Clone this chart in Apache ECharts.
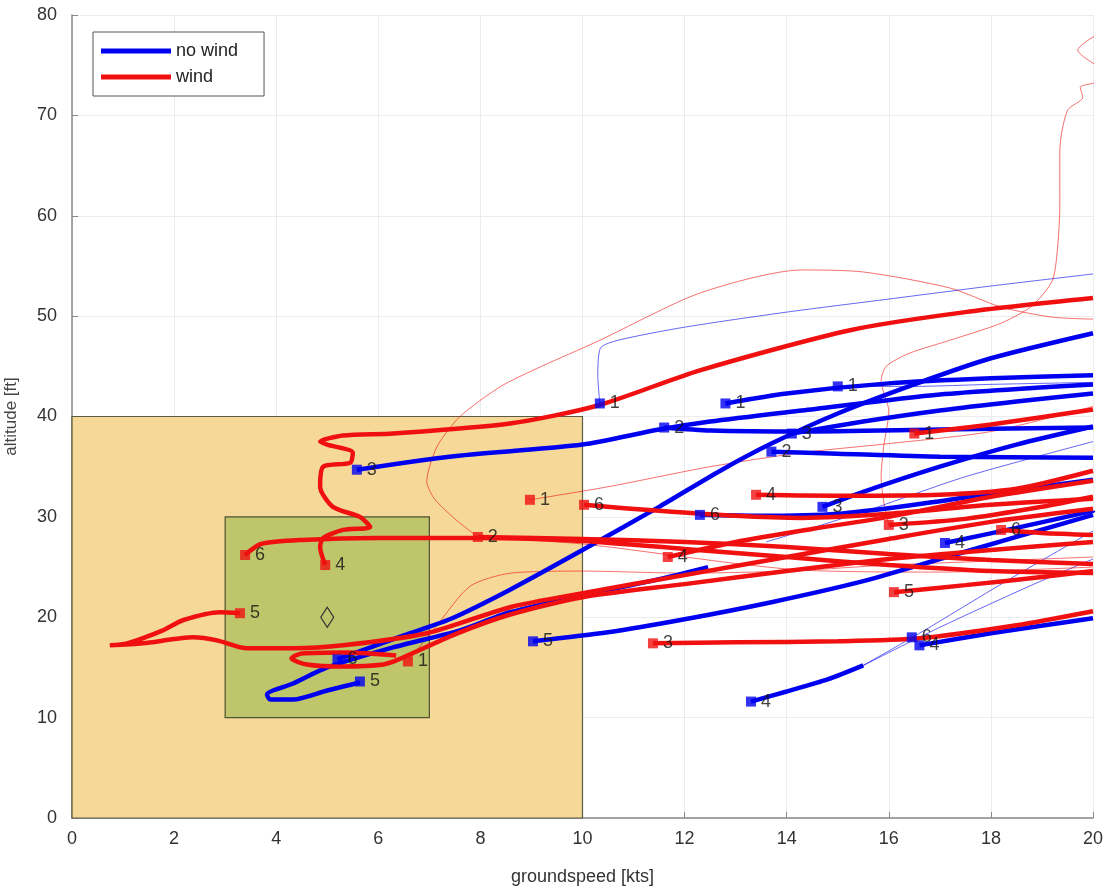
<!DOCTYPE html>
<html><head><meta charset="utf-8">
<script src="https://cdn.jsdelivr.net/npm/echarts/dist/echarts.min.js"></script>
<style>html,body{margin:0;padding:0;background:#fff}#c{width:1112px;height:892px}</style>
</head><body><div id="c"></div><script>
// ---------- data ----------
const xTicks = [0,2,4,6,8,10,12,14,16,18,20];
const yTicks = [0,10,20,30,40,50,60,70,80];
const seriesNames = ['no wind','wind'];
const outerBox = [[0,0],[10,40]];
const innerBox = [[3,10],[7,30]];
const target = [[5,20]];

// no wind (blue) trajectories - thick
const nw1  = [[12.8,41.3],[14,42.3],[16,43.3],[18,43.8],[20,44.1]];
const nw2a = [[11.6,38.9],[12.5,38.6],[14.3,38.5],[17,38.7],[20,38.9]];
const nw3a = [[5.58,34.7],[7.4,36.0],[10,37.2],[11.5,38.7],[12.5,39.5],[14.3,40.6],[17,42.2],[20,43.2]];
const nw2b = [[13.7,36.5],[15,36.3],[17,36.0],[20,35.9]];
const nw3b = [[14.1,38.3],[15.5,39.5],[17,40.6],[18.5,41.5],[20,42.3]];
const nw6a = [[5.2,15.8],[6.5,18.2],[7.4,19.8],[8.6,22.8],[10,26.7],[11.5,31],[12.7,34.6],[13.7,37.3],[15,40.3],[16.5,43.2],[18,45.8],[20,48.3]];
const nw6b = [[12.3,30.2],[13.5,30.1],[15,30.3],[16.5,31.2],[18,32.3],[20,33.7]];
const nw3c = [[14.7,31.0],[15.5,32.5],[17,35],[18.5,37.2],[20,39.0]];
const nw4a = [[17.1,27.4],[18.5,28.9],[20,30.6]];
const nw5a = [[9.03,17.6],[10.5,18.5],[12,19.8],[13.7,21.5],[15.5,23.6],[17,25.8],[18.5,28],[20,30.2]];
const nw4b = [[16.6,17.2],[18,18.4],[20,19.9]];
const nw4c = [[13.3,11.6],[14,12.6],[14.8,13.8],[15.5,15.2]];
const nw5b = [[5.64,13.5],[5.0,12.7],[4.33,11.8],[3.88,11.8],[3.82,12.3],[4.33,13.4],[5.0,15.0],[6.29,17.0],[7.6,18.7],[8.58,20.5],[10.3,22.5],[11.5,23.8],[12.46,25.0]];
// no wind - thin
const nwT1 = [[10.34,41.3],[10.3,44],[10.35,46.8],[10.7,47.6],[12,48.9],[14,50.4],[16,51.7],[18,53],[20,54.2]];
const nwT2 = [[15.0,43.0],[16.5,43.0],[18,43.2],[20,43.4]];
const nwT3 = [[15.5,15.2],[16.6,18.4],[18.3,23.6],[20,28.6]];
const nwT4 = [[15.5,15.2],[17,19],[18.8,23.2],[20,25.8]];
const nwT5 = [[13.6,27.5],[15.5,30.5],[17.5,34],[20,37.5]];

// wind (red) trajectories - thick
const w4a = [[4.96,25.2],[4.86,27.0],[4.92,27.9],[5.31,28.7],[5.84,29.0],[5.64,30.0],[5.11,31.0],[4.86,33.0],[4.92,35.0],[5.45,35.4],[5.5,36.4],[5.0,37.2],[4.86,37.5],[5.31,38.1],[6.29,38.3],[8.58,39.3],[10.3,41.1],[12.3,44.6],[15.24,48.6],[17.5,50.4],[20,51.8]];
const w6a = [[3.39,26.2],[3.7,27.3],[4.5,27.7],[6,27.9],[8,27.9],[10,27.6],[12,26.8],[14,26],[16,25.2],[18,24.6],[20,24.4]];
const w2a = [[7.95,28.0],[10,27.8],[12,27.5],[14,27.0],[16,26.3],[18,25.7],[20,25.3]];
const w6b = [[10.03,31.2],[11.5,30.6],[13,30.1],[14.3,29.9],[16,30.3],[18,31.2],[20,31.8]];
const w4b = [[13.4,32.2],[15,32.1],[17,32.2],[18.5,32.8],[20,34.6]];
const w1a = [[16.5,38.3],[18,39.2],[20,40.7]];
const w4c = [[11.67,26],[13,27.5],[14.5,28.8],[16,30],[18,32],[20,33.6]];
const w3a = [[16.0,29.2],[17.5,29.8],[19,31],[20,32]];
const w6c = [[18.2,28.7],[19,28.4],[20,28.2]];
const w5a = [[16.1,22.5],[17.5,23.2],[19,24],[20,24.6]];
const w3b = [[11.38,17.4],[13,17.5],[15,17.6],[16.6,17.9],[18.5,19.2],[20,20.6]];
const w5b = [[3.29,20.4],[2.9,20.5],[2.17,19.7],[1.78,18.7],[1.08,17.4],[0.74,17.2],[1.39,17.4],[2.37,18.0],[2.84,17.7],[3.43,16.9],[4.33,16.9],[5.31,17.2],[6.95,18.4],[8.58,21.0],[10,22.4],[12,24.2],[14,26],[16,27.8],[18,29.5],[20,30.8]];
const w0a = [[6.35,16.2],[5.4,16.5],[4.5,16.4],[4.3,15.9],[4.6,15.3],[5.3,15.1],[6.1,15.3],[6.4,15.8],[7.5,18.3],[8.6,20.3],[10,22],[12,23.3],[14,24.6],[16,25.8],[18,26.7],[20,27.5]];
// wind - thin
const wT1 = [[6.58,15.6],[7.15,19.2],[7.8,23.1],[8.6,24.4],[10,24.6],[12,24.4],[14,24.6],[16,25.2],[18,25.6],[20,26]];
const wT2 = [[7.95,28],[7.5,29.8],[7.1,31.8],[6.95,33.5],[7.15,37],[7.6,40],[8.4,43],[9.2,45],[10.3,47.5],[12.3,52.3],[14.3,54.6],[15.5,54.4],[17.2,52.8],[18.2,50.9],[19.2,49.9],[20,49.7]];
const wT3 = [[8.97,31.7],[10.5,33],[12.5,35],[14.3,36.4],[16,37.3],[18,38.5],[20,41]];
const wT4 = [[16,29.2],[15.9,31.5],[15.85,34],[15.9,37],[16,40.5],[15.85,43.5],[15.95,45],[16.4,46.3],[17.2,47.6],[18.2,49.3],[18.8,51],[19.2,53.5],[19.3,56.5],[19.35,61],[19.35,66.5],[19.5,70.5],[19.8,71.8],[19.75,72.8],[20,73.2],[20.5,74],[20,75.2],[19.7,76.5],[20,77.8],[20.5,79]];
const wT5 = [[7.95,28],[10,27.3],[14.3,24.7],[17,24.5],[20,25]];

// start markers [x, y, label]
const blueMarkers = [[10.34,41.3,'1'],[12.8,41.3,'1'],[15.0,43.0,'1'],[11.6,38.9,'2'],[13.7,36.5,'2'],[5.58,34.7,'3'],[14.1,38.3,'3'],[14.7,31.0,'3'],[12.3,30.2,'6'],[5.2,15.8,'6'],[17.1,27.4,'4'],[9.03,17.6,'5'],[5.64,13.6,'5'],[13.3,11.6,'4'],[16.45,18.0,'6'],[16.6,17.2,'4']];
const redMarkers = [[4.96,25.2,'4'],[3.39,26.2,'6'],[3.29,20.4,'5'],[6.58,15.6,'1'],[7.95,28.0,'2'],[8.97,31.7,'1'],[10.03,31.2,'6'],[11.67,26.0,'4'],[11.38,17.4,'3'],[13.4,32.2,'4'],[16.5,38.3,'1'],[16.0,29.2,'3'],[18.2,28.7,'6'],[16.1,22.5,'5']];

// ---------- chart ----------
const BLUE = '#0000f0', RED = '#f01010';
const FONT = 'Liberation Sans, Arial, sans-serif';
const blueThick = [nw1,nw2a,nw3a,nw2b,nw3b,nw6a,nw6b,nw3c,nw4a,nw5a,nw4b,nw4c,nw5b];
const blueThin = [nwT1,nwT2,nwT3,nwT4,nwT5];
const redThick = [w4a,w6a,w2a,w6b,w4b,w1a,w4c,w3a,w6c,w5a,w3b,w5b,w0a];
const redThin = [wT1,wT2,wT3,wT4,wT5];

const series = [];
series.push({
  type:'scatter', name:'boxes', data: target, z:1, silent:true,
  symbol:'diamond', symbolSize:[13,20],
  itemStyle:{color:'rgba(0,0,0,0)', borderColor:'#333', borderWidth:1},
  markArea:{silent:true, data:[
    [{xAxis:outerBox[0][0], yAxis:outerBox[0][1], itemStyle:{color:'#f6d998', borderColor:'#5c5a44', borderWidth:1.2}}, {xAxis:outerBox[1][0], yAxis:outerBox[1][1]}],
    [{xAxis:innerBox[0][0], yAxis:innerBox[0][1], itemStyle:{color:'#bec56b', borderColor:'#4e5230', borderWidth:1.2}}, {xAxis:innerBox[1][0], yAxis:innerBox[1][1]}]
  ]}
});
function addLines(list, name, color, width, opacity, z){
  list.forEach(d => series.push({
    type:'line', name, data:d, showSymbol:false, smooth:0.25, z, silent:true, clip:true,
    lineStyle:{color, width, opacity}, itemStyle:{color}
  }));
}
addLines(blueThin, 'no wind', BLUE, 1, 0.6, 2);
addLines(redThin, 'wind', RED, 1, 0.6, 2);
addLines(blueThick, 'no wind', BLUE, 4.5, 1, 3);
addLines(redThick, 'wind', RED, 4.5, 1, 3);
series.push({type:'scatter', name:'target', data: target, z:4, silent:true, symbol:'diamond', symbolSize:[13,20],
  itemStyle:{color:'rgba(0,0,0,0)', borderColor:'#333', borderWidth:1}});
function addMarkers(list, name, color){
  series.push({type:'scatter', name, data:list, z:5, silent:true, symbol:'rect', symbolSize:10,
    itemStyle:{color},
    label:{show:true, position:'right', distance:5, color:'#111', fontSize:18, fontFamily:FONT,
      formatter: p => p.data[2]}});
}
addMarkers(blueMarkers, 'no wind markers', BLUE);
addMarkers(redMarkers, 'wind markers', RED);

const chart = echarts.init(document.getElementById('c'), null, {renderer:'canvas'});
chart.setOption({
  animation:false,
  backgroundColor:'#fff',
  grid:{left:72, right:19, top:15, bottom:74, containLabel:false, outerBoundsMode:'none'},
  legend:{data:seriesNames, left:93, top:32, orient:'vertical', icon:'rect', itemWidth:70, itemHeight:5,
    itemGap:8, padding:[10,26,10,8], borderColor:'#555', borderWidth:1, backgroundColor:'#fff',
    textStyle:{fontSize:18, fontFamily:FONT, color:'#222'}},
  xAxis:{type:'value', min:xTicks[0], max:xTicks[xTicks.length-1], interval:2,
    name:'groundspeed [kts]', nameLocation:'middle', nameGap:50,
    nameTextStyle:{fontSize:18, fontFamily:FONT, color:'#333'},
    axisLine:{show:true, lineStyle:{color:'#888', width:1.5}},
    axisTick:{show:true, inside:true, length:6, lineStyle:{color:'#888'}},
    axisLabel:{fontSize:18, fontFamily:FONT, color:'#333', margin:12},
    splitLine:{show:true, lineStyle:{color:'#ececec', width:1}}},
  yAxis:{type:'value', min:yTicks[0], max:yTicks[yTicks.length-1], interval:10,
    name:'altitude [ft]', nameLocation:'middle', nameGap:52, nameRotate:90,
    nameTextStyle:{fontSize:17, fontFamily:FONT, color:'#444'},
    axisLine:{show:true, lineStyle:{color:'#888', width:1.5}},
    axisTick:{show:true, inside:true, length:6, lineStyle:{color:'#888'}},
    axisLabel:{fontSize:18, fontFamily:FONT, color:'#333', margin:15},
    splitLine:{show:true, lineStyle:{color:'#ececec', width:1}}},
  series
});
</script></body></html>
